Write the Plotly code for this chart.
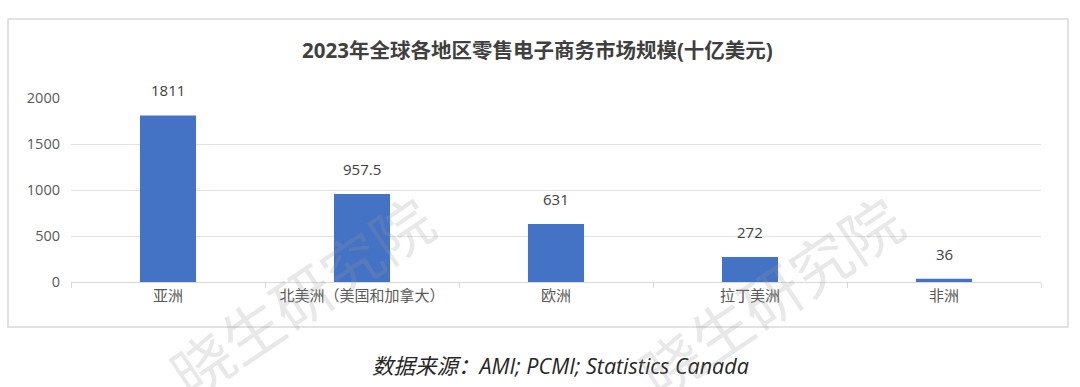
import plotly.graph_objects as go

categories = ["亚洲", "北美洲（美国和加拿大）", "欧洲", "拉丁美洲", "非洲"]
values = [1811, 957.5, 631, 272, 36]
value_labels = ["1811", "957.5", "631", "272", "36"]
y_ticks = [0, 500, 1000, 1500, 2000]

title_text = "2023年全球各地区零售电子商务市场规模(十亿美元)"
source_text = "数据来源：AMI; PCMI; Statistics Canada"
watermark = "晓生研究院"

FONT = "Open Sans, Noto Sans CJK SC, sans-serif"

W, H = 1080, 387
L, R, T, B = 71, 39, 98, 105
pw, ph = W - L - R, H - T - B

def px_x(x):
    return (x - L) / pw

def px_y(y):
    return (H - B - y) / ph

fig = go.Figure()
fig.add_trace(go.Bar(
    x=categories, y=values,
    marker=dict(color="#4472C4", line=dict(width=0)),
    width=0.289,
    hoverinfo="skip",
))

annotations = []
for c, v, t in zip(categories, values, value_labels):
    annotations.append(dict(
        x=c, y=v, xref="x", yref="y", text=t, showarrow=False,
        yanchor="middle", yshift=25,
        font=dict(family=FONT, size=15, color="#404040"),
    ))

# title
annotations.append(dict(
    x=px_x(537.5), y=px_y(50), xref="paper", yref="paper",
    text="<b>" + title_text + "</b>", showarrow=False,
    xanchor="center", yanchor="middle",
    font=dict(family=FONT, size=20.5, color="#404040"),
))
# source
annotations.append(dict(
    x=px_x(560), y=px_y(365), xref="paper", yref="paper",
    text="<i>" + source_text + "</i>", showarrow=False,
    xanchor="center", yanchor="middle",
    font=dict(family=FONT, size=21.5, color="#262626"),
))
# watermarks
for cx in (300, 769):
    annotations.append(dict(
        x=px_x(cx), y=px_y(294), xref="paper", yref="paper",
        text=watermark, showarrow=False, textangle=-34,
        xanchor="center", yanchor="middle",
        font=dict(family="Noto Sans CJK SC", size=60, color="rgba(150,150,150,0.22)"),
    ))

fig.update_layout(
    width=W, height=H,
    margin=dict(l=L, r=R, t=T, b=B),
    paper_bgcolor="white", plot_bgcolor="white",
    showlegend=False,
    annotations=annotations,
    shapes=[dict(
        type="rect", xref="paper", yref="paper",
        x0=px_x(8), x1=px_x(1068), y0=px_y(327), y1=px_y(19),
        line=dict(color="#d9d9d9", width=1.5), layer="below",
    )],
    xaxis=dict(
        showgrid=False, showline=True, linecolor="#d9d9d9", linewidth=1,
        ticks="outside", tickson="boundaries", ticklen=5, tickcolor="#d9d9d9",
        tickfont=dict(family=FONT, size=15, color="#595959"),
        fixedrange=True,
    ),
    yaxis=dict(
        range=[0, 2000], tickvals=y_ticks,
        showgrid=True, gridcolor="#e3e3e3", gridwidth=1,
        zeroline=False, showline=False,
        ticks="", ticklabelstandoff=10,
        tickfont=dict(family=FONT, size=14.5, color="#595959"),
        fixedrange=True,
    ),
)

fig.write_html("out.html", config={"displayModeBar": False},
               post_script="document.body.style.margin='0';document.body.style.overflow='hidden';")
